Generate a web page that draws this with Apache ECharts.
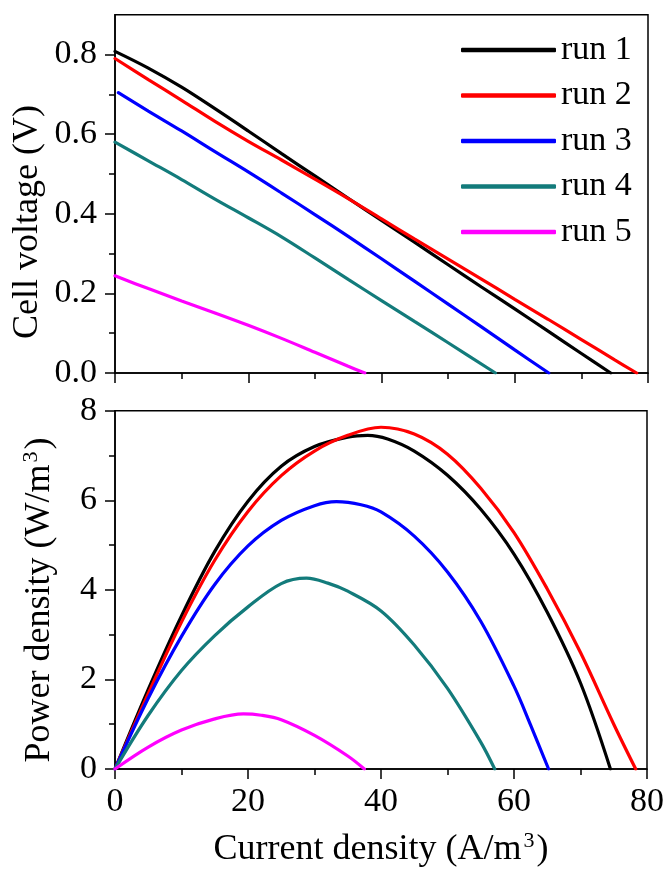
<!DOCTYPE html>
<html>
<head>
<meta charset="utf-8">
<script src="https://cdn.jsdelivr.net/npm/echarts@6/dist/echarts.min.js"></script>
<style>
html,body{margin:0;padding:0;background:#fff;}
#chart{width:667px;height:869px;}
</style>
</head>
<body>
<div id="chart"></div>
<script>
// ---- data ----
const seriesNames = ['run 1', 'run 2', 'run 3', 'run 4', 'run 5'];

// Cell voltage (V) vs current density (A/m3)
const voltRun1 = [[0,0.808],[5,0.766],[10,0.718],[15,0.664],[20,0.608],[25,0.551],[30,0.495],[35,0.439],[40,0.383],[45,0.328],[50,0.272],[55,0.216],[60,0.161],[65,0.105],[70,0.049],[74.4,0]];
const voltRun2 = [[0,0.79],[5,0.737],[10,0.685],[15,0.632],[20,0.582],[25,0.535],[30,0.487],[35,0.438],[40,0.387],[45,0.336],[50,0.286],[55,0.236],[60,0.185],[65,0.135],[70,0.084],[75,0.033],[78.3,0]];
const voltRun3 = [[0.5,0.704],[5,0.658],[10,0.608],[15,0.556],[20,0.505],[25,0.452],[30,0.398],[35,0.343],[40,0.287],[45,0.23],[50,0.173],[55,0.116],[60,0.058],[65.1,0]];
const voltRun4 = [[0,0.58],[5,0.533],[10,0.486],[15,0.437],[20,0.39],[25,0.342],[30,0.289],[35,0.235],[40,0.182],[45,0.129],[50,0.076],[57.1,0]];
const voltRun5 = [[0,0.244],[5,0.212],[10,0.181],[15,0.151],[20,0.12],[25,0.087],[30,0.052],[35,0.017],[37.5,0]];

// Power density (W/m3) vs current density (A/m3)
const powRun1 = [[0,0],[5,1.78],[10,3.42],[15,4.86],[20,5.98],[25,6.76],[30,7.2],[35,7.41],[38,7.45],[41,7.37],[45,7.1],[50,6.56],[55,5.8],[60,4.8],[65,3.5],[70,1.92],[74.5,0]];
const powRun2 = [[0,0],[5,1.68],[10,3.28],[15,4.66],[20,5.75],[25,6.55],[30,7.1],[35,7.45],[40,7.63],[45,7.48],[50,7.03],[55,6.27],[60,5.28],[65,4.02],[70,2.6],[75,1.0],[78.3,0]];
const powRun3 = [[0,0],[5,1.58],[10,2.96],[15,4.12],[20,4.98],[25,5.55],[30,5.88],[33.3,5.97],[37,5.9],[40,5.74],[45,5.2],[50,4.4],[55,3.3],[60,1.85],[62.5,0.98],[65.2,0]];
const powRun4 = [[0,0],[5,1.2],[10,2.2],[15,2.98],[20,3.62],[25,4.14],[28.8,4.26],[32,4.15],[35,3.97],[40,3.53],[45,2.77],[50,1.8],[55,0.6],[57.1,0]];
const powRun5 = [[0,0],[5,0.49],[10,0.87],[15,1.12],[19.3,1.23],[22,1.2],[25,1.1],[30,0.75],[35,0.29],[37.5,0]];

// ticks
const xTicks = [0, 20, 40, 60, 80];
const voltTicks = [0, 0.2, 0.4, 0.6, 0.8];
const voltMinorTicks = [0.1, 0.3, 0.5, 0.7];
const powerTicks = [0, 2, 4, 6, 8];

// ---- styling ----
const colors = ['#000000', '#ff0000', '#0000ff', '#137b7b', '#ff00ff'];
const FONT = '"Liberation Serif", "Times New Roman", serif';
const voltData = [voltRun1, voltRun2, voltRun3, voltRun4, voltRun5];
const powData = [powRun1, powRun2, powRun3, powRun4, powRun5];

const axisLine = { show: true, onZero: false, lineStyle: { color: '#000', width: 1.5 } };
const labelStyle = { color: '#000', fontFamily: FONT, fontSize: 34 };

function xAxisFor(gridIndex, showLabels) {
  return {
    type: 'value', gridIndex, min: xTicks[0], max: xTicks[xTicks.length - 1], interval: xTicks[1] - xTicks[0],
    axisLine,
    axisTick: { show: true, inside: false, length: 10, lineStyle: { color: '#000', width: 1.5 } },
    minorTick: { show: true, splitNumber: 2, length: 6, lineStyle: { color: '#000', width: 1.5 } },
    axisLabel: Object.assign({ show: showLabels, margin: 16 }, labelStyle),
    splitLine: { show: false }
  };
}

const series = [];
seriesNames.forEach((n, i) => {
  series.push({
    name: n, type: 'line', xAxisIndex: 0, yAxisIndex: 0, data: voltData[i],
    showSymbol: false, symbol: 'none', smooth: 0.35, clip: true,
    lineStyle: { color: colors[i], width: 3.2, cap: 'round' }, itemStyle: { color: colors[i] }
  });
});
seriesNames.forEach((n, i) => {
  series.push({
    name: n, type: 'line', xAxisIndex: 1, yAxisIndex: 2, data: powData[i],
    showSymbol: false, symbol: 'none', smooth: 0.35, clip: true,
    lineStyle: { color: colors[i], width: 3.2, cap: 'round' }, itemStyle: { color: colors[i] }
  });
});

const chart = echarts.init(document.getElementById('chart'), null, { renderer: 'canvas' });
chart.setOption({
  backgroundColor: '#fff',
  animation: false,
  legend: {
    data: seriesNames,
    orient: 'vertical',
    left: 456, top: 28,
    itemWidth: 95, itemHeight: 4.5,
    itemGap: 11.5,
    icon: 'roundRect',
    textStyle: { color: '#000', fontFamily: FONT, fontSize: 34, lineHeight: 33 },
    selectedMode: false
  },
  grid: [
    { left: 115, right: 19, top: 14.7, height: 358.3, show: true, borderColor: '#000', borderWidth: 1.5, backgroundColor: 'transparent' },
    { left: 115, right: 19, top: 410.7, height: 358.3, show: true, borderColor: '#000', borderWidth: 1.5, backgroundColor: 'transparent' }
  ],
  xAxis: [xAxisFor(0, false), xAxisFor(1, true)],
  yAxis: [
    {
      type: 'value', gridIndex: 0, min: 0, max: 0.9, interval: 0.1, position: 'left',
      axisLine,
      axisTick: { show: true, length: 10, customValues: voltTicks, lineStyle: { color: '#000', width: 1.5 } },
      axisLabel: Object.assign({ show: true, margin: 18, customValues: voltTicks, formatter: v => v.toFixed(1) }, labelStyle),
      splitLine: { show: false }
    },
    {
      type: 'value', gridIndex: 0, min: 0, max: 0.9, interval: 0.1, position: 'left',
      axisLine: { show: false },
      axisTick: { show: true, length: 6, customValues: voltMinorTicks, lineStyle: { color: '#000', width: 1.5 } },
      axisLabel: { show: false },
      splitLine: { show: false }
    },
    {
      type: 'value', gridIndex: 1, min: powerTicks[0], max: powerTicks[powerTicks.length - 1], interval: powerTicks[1] - powerTicks[0], position: 'left',
      axisLine,
      axisTick: { show: true, length: 10, lineStyle: { color: '#000', width: 1.5 } },
      minorTick: { show: true, splitNumber: 2, length: 6, lineStyle: { color: '#000', width: 1.5 } },
      axisLabel: Object.assign({ show: true, margin: 18 }, labelStyle),
      splitLine: { show: false }
    }
  ],
  graphic: [
    {
      type: 'text', x: 28, y: 222, rotation: Math.PI / 2, silent: true,
      style: { text: 'Cell voltage (V)', fontFamily: FONT, fontSize: 36, fill: '#000',
               align: 'center', verticalAlign: 'middle', textAlign: 'center', textVerticalAlign: 'middle' }
    },
    {
      type: 'text', x: 40, y: 600, rotation: Math.PI / 2, silent: true,
      style: { text: '{a|Power density (W/m}{s|3}{a|)}', fill: '#000',
               align: 'center', verticalAlign: 'middle', textAlign: 'center', textVerticalAlign: 'middle',
               rich: { a: { fontFamily: FONT, fontSize: 36, color: '#000', lineHeight: 40 },
                       s: { fontFamily: FONT, fontSize: 22, color: '#000', verticalAlign: 'top', lineHeight: 40, padding: [0, 2, 0, 2] } } }
    },
    {
      type: 'text', x: 381, y: 850, silent: true,
      style: { text: '{a|Current density (A/m}{s|3}{a|)}', fill: '#000',
               align: 'center', verticalAlign: 'middle', textAlign: 'center', textVerticalAlign: 'middle',
               rich: { a: { fontFamily: FONT, fontSize: 36, color: '#000', lineHeight: 40 },
                       s: { fontFamily: FONT, fontSize: 22, color: '#000', verticalAlign: 'top', lineHeight: 40, padding: [0, 2, 0, 2] } } }
    }
  ],
  series
});
</script>
</body>
</html>
